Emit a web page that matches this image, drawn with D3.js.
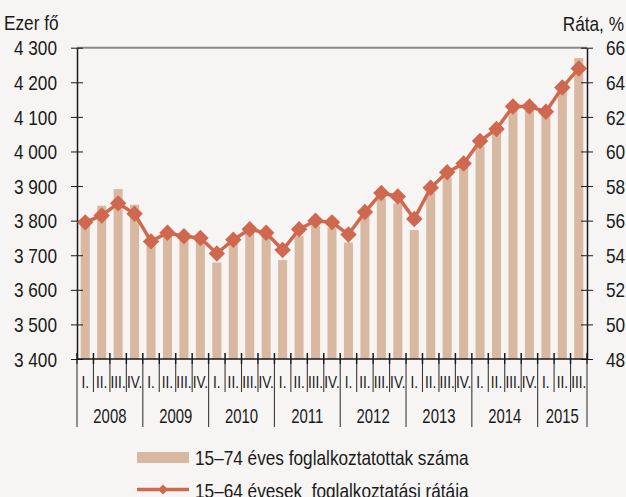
<!DOCTYPE html>
<html>
<head>
<meta charset="utf-8">
<script src="https://cdn.jsdelivr.net/npm/d3@7"></script>
<style>
  html, body { margin: 0; padding: 0; background: #f6f5f3; }
  svg { display: block; }
  text { font-family: "Liberation Sans", Arial, sans-serif; fill: #1a1a1a; }
</style>
</head>
<body>
<svg id="chart" width="626" height="497"></svg>
<script>
// quarters 2008 I. - 2015 III.
const years = ['2008', '2009', '2010', '2011', '2012', '2013', '2014', '2015']
const quarterNames = ['I.', 'II.', 'III.', 'IV.']
const quarters = []
years.forEach(y => quarterNames.forEach(q => { if (!(y === '2015' && q === 'IV.')) quarters.push(y + ' ' + q) }))

// 15-74 employed, thousand persons
const employed = [3805, 3843, 3891, 3846, 3735, 3760, 3750, 3745,
                  3679, 3735, 3765, 3755, 3686, 3755, 3785, 3780,
                  3737, 3815, 3865, 3850, 3773, 3880, 3925, 3956,
                  4014, 4055, 4130, 4125, 4110, 4190, 4270]
// 15-64 employment rate, %
const rate = [55.9, 56.3, 57.0, 56.4, 54.8, 55.3, 55.1, 55.0,
              54.1, 54.9, 55.5, 55.3, 54.3, 55.5, 56.0, 55.9,
              55.2, 56.5, 57.6, 57.4, 56.1, 57.9, 58.8, 59.3,
              60.6, 61.3, 62.6, 62.6, 62.3, 63.7, 64.8]

const leftTicks = [3400, 3500, 3600, 3700, 3800, 3900, 4000, 4100, 4200, 4300]
const rightTicks = [48, 50, 52, 54, 56, 58, 60, 62, 64, 66]

const svg = d3.select('#chart')
const pLeft = 77, pRight = 587, pTop = 47.7, pBottom = 359
const barColor = '#d9b8a1', lineColor = '#d0684f'

const x = d3.scaleBand().domain(quarters).range([pLeft, pRight]).paddingInner(0.45).paddingOuter(0.225)
const yL = d3.scaleLinear().domain([3400, 4300]).range([pBottom, pTop])
const yR = d3.scaleLinear().domain([48, 66]).range([pBottom, pTop])
const fmt = v => d3.format(',')(v).replace(',', ' ')

// no condensed font installed, so squeeze the text horizontally instead
const narrow = k => sel => sel.each(function () {
  const t = d3.select(this)
  t.attr('x', +(t.attr('x') || 0) / k).attr('transform', `scale(${k},1)`)
})

// bars
svg.append('g')
  .selectAll('rect')
  .data(employed)
  .join('rect')
    .attr('x', (d, i) => x(quarters[i]))
    .attr('width', x.bandwidth())
    .attr('y', d => yL(d))
    .attr('height', d => pBottom - yL(d))
    .attr('fill', barColor)

// top frame line
svg.append('line')
  .attr('x1', pLeft).attr('x2', pRight).attr('y1', pTop).attr('y2', pTop)
  .attr('stroke', '#8a8a8a').attr('stroke-width', 2)

// left axis
const axL = svg.append('g').attr('transform', `translate(${pLeft},0)`)
  .call(d3.axisLeft(yL).tickValues(leftTicks).tickFormat(fmt).tickSizeInner(6).tickSizeOuter(0).tickPadding(14))
axL.selectAll('.tick line').attr('x2', 6).attr('x1', -6)
axL.select('.domain').attr('stroke-width', 1.5)
axL.selectAll('text').style('font-size', '21px').attr('dy', '0.34em').call(narrow(0.82))

// right axis
const axR = svg.append('g').attr('transform', `translate(${pRight},0)`)
  .call(d3.axisRight(yR).tickValues(rightTicks).tickSizeInner(6).tickSizeOuter(0).tickPadding(13))
axR.selectAll('.tick line').attr('x1', -6).attr('x2', 6)
axR.select('.domain').attr('stroke-width', 1.5)
axR.selectAll('text').style('font-size', '21px').attr('dy', '0.34em').call(narrow(0.82))

svg.selectAll('.domain, .tick line').attr('stroke', '#1a1a1a')
svg.selectAll('.tick text').attr('fill', '#1a1a1a')

// axis titles
svg.append('text').attr('x', 4).attr('y', 30).style('font-size', '21px').text('Ezer fő').call(narrow(0.82))
svg.append('text').attr('x', 624).attr('y', 31).attr('text-anchor', 'end').style('font-size', '21px').text('Ráta, %').call(narrow(0.82))

// bottom axis, quarters and years
const step = x.step()
const bx = i => pLeft + i * step
svg.append('line').attr('x1', pLeft).attr('x2', pRight).attr('y1', pBottom).attr('y2', pBottom)
  .attr('stroke', '#1a1a1a').attr('stroke-width', 1.5)
const cat = svg.append('g')
d3.range(quarters.length + 1).forEach(i => {
  const xx = bx(i)
  cat.append('line').attr('x1', xx).attr('x2', xx).attr('y1', pBottom - 6).attr('y2', pBottom + 5)
    .attr('stroke', '#1a1a1a').attr('stroke-width', 1.5)
  const isYear = i % 4 === 0 || i === quarters.length
  cat.append('line').attr('x1', xx).attr('x2', xx).attr('y1', pBottom + 5).attr('y2', isYear ? 427 : 392)
    .attr('stroke', '#3a3a3a').attr('stroke-width', 1.1)
})
cat.selectAll('text.q')
  .data(quarters)
  .join('text')
    .attr('class', 'q')
    .attr('x', d => x(d) + x.bandwidth() / 2)
    .attr('y', 388)
    .attr('text-anchor', 'middle')
    .style('font-size', '17px')
    .text(d => d.split(' ')[1])
    .call(narrow(0.8))
cat.selectAll('text.y')
  .data(years)
  .join('text')
    .attr('class', 'y')
    .attr('x', (d, i) => {
      const n = quarters.filter(q => q.startsWith(d)).length
      return bx(i * 4) + n * step / 2
    })
    .attr('y', 423)
    .attr('text-anchor', 'middle')
    .style('font-size', '21px')
    .text(d => d)
    .call(narrow(0.71))

// rate line
const line = d3.line()
  .x((d, i) => x(quarters[i]) + x.bandwidth() / 2)
  .y(d => yR(d))
svg.append('path')
  .datum(rate)
  .attr('d', line)
  .attr('fill', 'none')
  .attr('stroke', lineColor)
  .attr('stroke-width', 3.5)
svg.append('g')
  .selectAll('path')
  .data(rate)
  .join('path')
    .attr('transform', (d, i) => `translate(${x(quarters[i]) + x.bandwidth() / 2},${yR(d)}) rotate(45)`)
    .attr('d', d3.symbol().type(d3.symbolSquare).size(135))
    .attr('fill', lineColor)

// legend
const lg = svg.append('g')
lg.append('rect').attr('x', 137).attr('y', 452).attr('width', 52).attr('height', 11).attr('fill', barColor)
lg.append('text').attr('x', 195).attr('y', 465).style('font-size', '21px').text('15–74 éves foglalkoztatottak száma').call(narrow(0.82))
lg.append('line').attr('x1', 137).attr('x2', 189).attr('y1', 489.5).attr('y2', 489.5)
  .attr('stroke', lineColor).attr('stroke-width', 3.5)
lg.append('path').attr('transform', 'translate(163,489.5) rotate(45)')
  .attr('d', d3.symbol().type(d3.symbolSquare).size(50)).attr('fill', lineColor)
lg.append('text').attr('x', 195).attr('y', 498).style('font-size', '21px').style('white-space', 'pre')
  .text('15–64 évesek  foglalkoztatási rátája').call(narrow(0.82))
</script>
</body>
</html>
